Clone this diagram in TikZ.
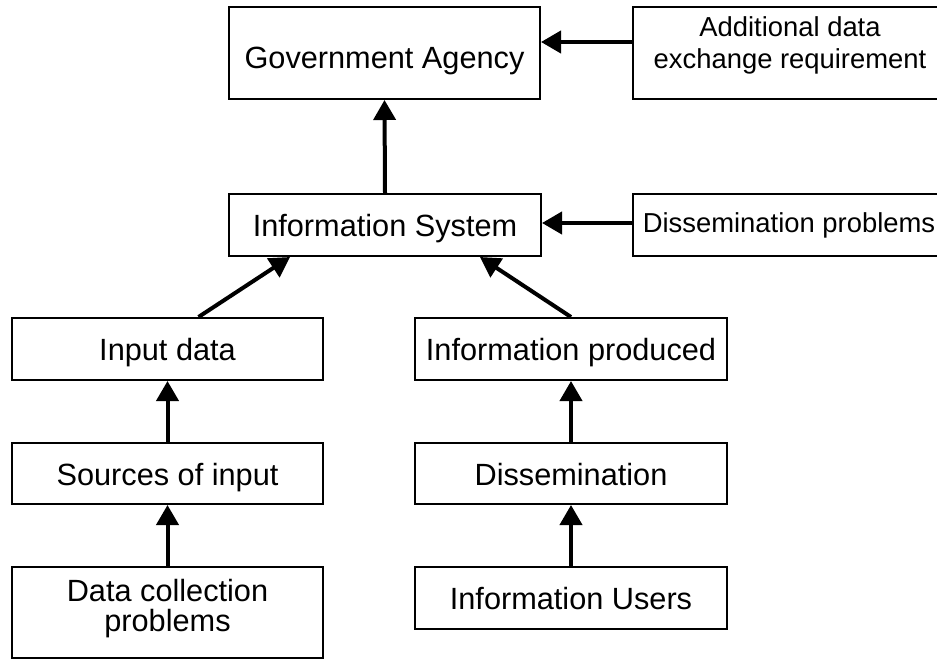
\documentclass[tikz,border=0pt]{standalone}
\usepackage{fontspec}
\setmainfont{Liberation Sans}
\usetikzlibrary{arrows.meta}
\begin{document}
\begin{tikzpicture}[x=1pt,y=-1pt,
  box/.style={draw=black, line width=2pt, inner sep=0pt, align=center,
    font=\fontsize{30.7}{30}\selectfont, text=black,
    text height=23.4pt, text depth=0pt},
  sidebox/.style={box, font=\fontsize{27.4}{32}\selectfont,
    text height=15.4pt, text depth=0pt},
  boxtext/.style={inner sep=0pt, align=center, anchor=base,
    font=\fontsize{30.7}{29.7}\selectfont},
  sidetext/.style={inner sep=0pt, align=center, anchor=base,
    font=\fontsize{27.4}{32.3}\selectfont},
  link/.style={line width=4pt, -{Triangle[length=20pt,width=22pt]}},
]
\useasboundingbox (0,0) rectangle (937,661);
\clip (0,0) rectangle (937,661);

% top row
\node[box, minimum width=311, minimum height=92, text height=32pt] (ga) at (384.5,53) {Government Agency};
\node[sidebox, minimum width=312, minimum height=92] (add) at (789,53) {};
% multi-line labels are anchored at the baseline of their last line
\node[sidetext] (addtext) at (790,68.3) {Additional data\\exchange requirement};

% information system row
\node[box, minimum width=312, minimum height=62] (is) at (385,225) {Information System};
\node[sidebox, minimum width=312, minimum height=62] (dp) at (789,225) {Dissemination problems};

% left column
\node[box, minimum width=311, minimum height=62] (indata) at (167.5,349) {Input data};
\node[box, minimum width=311, minimum height=61] (src) at (167.5,473.5) {Sources of input};
\node[box, minimum width=311, minimum height=91] (dcp) at (167.5,612.5) {};
\node[boxtext] (dcptext) at (167.5,631.4) {Data collection\\problems};

% right column
\node[box, minimum width=312, minimum height=62] (prod) at (571,349) {Information produced};
\node[box, minimum width=312, minimum height=61] (diss) at (571,473.5) {Dissemination};
\node[box, minimum width=312, minimum height=62] (users) at (571,598) {Information Users};

% connectors
\draw[link] ([yshift=11pt]add.west) -- ([yshift=11pt]ga.east);
\draw[link] (is.north) -- (ga.south);
\draw[link] ([yshift=2pt]dp.west) -- ([yshift=2pt]is.east);
\draw[link] ([xshift=31pt]indata.north) -- ([xshift=-95pt]is.south);
\draw[link] (prod.north) -- ([xshift=95pt]is.south);
\draw[link] (src.north) -- (indata.south);
\draw[link] (dcp.north) -- (src.south);
\draw[link] (diss.north) -- (prod.south);
\draw[link] (users.north) -- (diss.south);
\end{tikzpicture}
\end{document}
